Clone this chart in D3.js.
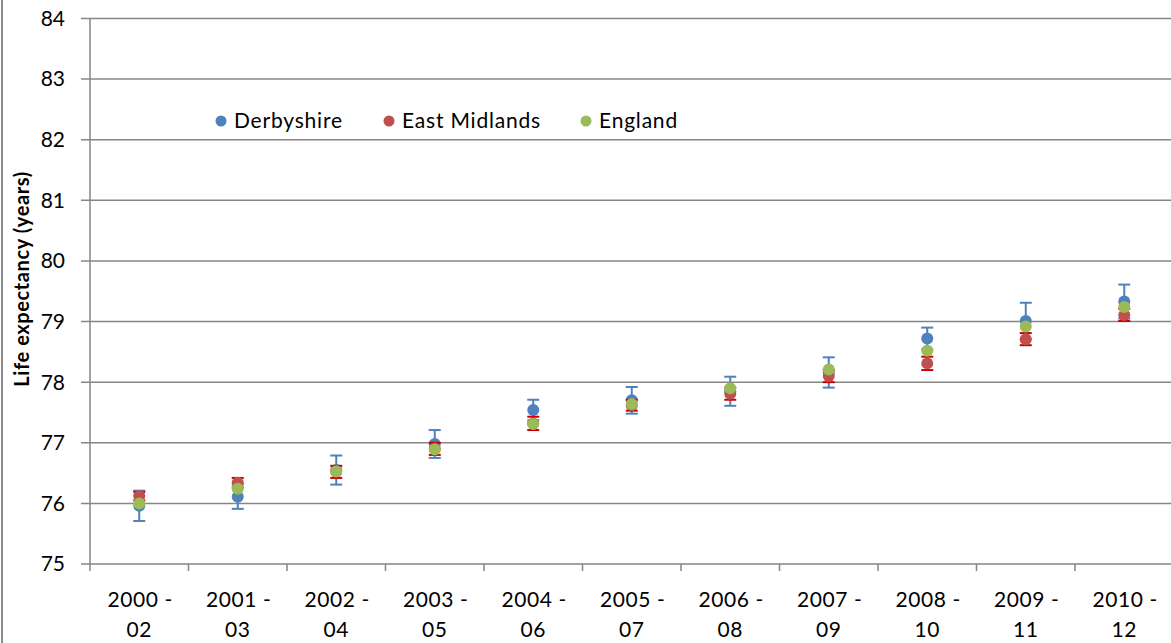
<!DOCTYPE html>
<html lang="en">
<head>
    <meta charset="UTF-8">
    <title>Life expectancy</title>
    <style>
        body { margin: 0; background: #fff; }
        svg { display: block; font-family: Lato, "Open Sans", sans-serif; }
    </style>
</head>
<body>
    <div id="chart"></div>

    <script src="https://d3js.org/d3.v7.min.js"></script>
    <script>
        // data
        const periods = ["2000 - 02", "2001 - 03", "2002 - 04", "2003 - 05", "2004 - 06", "2005 - 07",
                         "2006 - 08", "2007 - 09", "2008 - 10", "2009 - 11", "2010 - 12"];
        const derbyshire    = [75.96, 76.11, 76.55, 76.98, 77.54, 77.7, 77.85, 78.16, 78.72, 79.01, 79.33];
        const derbyshireErr = [0.25, 0.2, 0.24, 0.23, 0.17, 0.22, 0.24, 0.25, 0.18, 0.3, 0.28];
        const eastMidlands    = [76.12, 76.34, 76.52, 76.9, 77.32, 77.62, 77.81, 78.1, 78.31, 78.71, 79.11];
        const eastMidlandsErr = [0.07, 0.08, 0.1, 0.1, 0.11, 0.09, 0.1, 0.1, 0.11, 0.1, 0.1];
        const england = [76.0, 76.24, 76.53, 76.89, 77.31, 77.64, 77.9, 78.21, 78.52, 78.92, 79.24];
        const yTicks = [75, 76, 77, 78, 79, 80, 81, 82, 83, 84];

        const series = [
            { name: "Derbyshire", values: derbyshire, err: derbyshireErr, color: "#4F81BD", errColor: "#4F81BD" },
            { name: "East Midlands", values: eastMidlands, err: eastMidlandsErr, color: "#C0504D", errColor: "#CC0000" },
            { name: "England", values: england, err: null, color: "#9BBB59", errColor: null }
        ];

        const width = 1171, height = 643;
        const svg = d3.select("#chart").append("svg")
            .attr("width", width)
            .attr("height", height);

        // outer border on the left
        svg.append("line")
            .attr("x1", 2).attr("x2", 2).attr("y1", 0).attr("y2", height)
            .attr("stroke", "#8c8c8c").attr("stroke-width", 2);

        const x = d3.scaleBand().domain(periods).range([90, 1173.5]);
        const y = d3.scaleLinear().domain([75, 84]).range([564, 18.5]);

        // gridlines
        svg.append("g")
            .selectAll("line")
            .data(yTicks)
            .join("line")
            .attr("x1", 81).attr("x2", width)
            .attr("y1", d => y(d)).attr("y2", d => y(d))
            .attr("stroke", "#868686").attr("stroke-width", 1.5);

        // y axis
        svg.append("line")
            .attr("x1", 90).attr("x2", 90).attr("y1", y(84)).attr("y2", y(75))
            .attr("stroke", "#868686").attr("stroke-width", 1.5);
        svg.append("g")
            .selectAll("text")
            .data(yTicks)
            .join("text")
            .attr("x", 65).attr("y", d => y(d))
            .attr("dy", "0.35em")
            .attr("text-anchor", "end")
            .attr("font-size", 21)
            .text(d => d);

        // x axis ticks between categories
        const bounds = periods.map(p => x(p));
        svg.append("g")
            .selectAll("line")
            .data(bounds)
            .join("line")
            .attr("x1", d => d).attr("x2", d => d)
            .attr("y1", 564).attr("y2", 571)
            .attr("stroke", "#868686").attr("stroke-width", 1.5);

        const xl = svg.append("g")
            .selectAll("text")
            .data(periods)
            .join("text")
            .attr("text-anchor", "middle")
            .attr("font-size", 21)
            .attr("letter-spacing", 0.6);
        xl.append("tspan")
            .attr("x", d => x(d) + x.bandwidth() / 2 + 1)
            .attr("y", 607)
            .text(d => d.split(" - ")[0] + " -");
        xl.append("tspan")
            .attr("x", d => x(d) + x.bandwidth() / 2)
            .attr("y", 637)
            .text(d => d.split(" - ")[1]);

        // y axis title
        svg.append("text")
            .attr("transform", "translate(29,279) rotate(-90)")
            .attr("text-anchor", "middle")
            .attr("font-size", 20)
            .attr("font-weight", "bold")
            .attr("letter-spacing", 0.6)
            .text("Life expectancy (years)");

        const cx = i => x(periods[i]) + x.bandwidth() / 2;

        // each series: error bars, then markers
        series.forEach(s => {
            if (s.err) {
                const g = svg.append("g").attr("stroke", s.errColor).attr("stroke-width", 2).attr("fill", "none");
                s.values.forEach((v, i) => {
                    const lo = y(v - s.err[i]), hi = y(v + s.err[i]), c = cx(i);
                    g.append("line").attr("x1", c).attr("x2", c).attr("y1", lo).attr("y2", hi);
                    g.append("line").attr("x1", c - 6).attr("x2", c + 6).attr("y1", lo).attr("y2", lo);
                    g.append("line").attr("x1", c - 6).attr("x2", c + 6).attr("y1", hi).attr("y2", hi);
                });
            }
            svg.append("g")
                .selectAll("circle")
                .data(s.values)
                .join("circle")
                .attr("cx", (d, i) => cx(i))
                .attr("cy", d => y(d))
                .attr("r", 6)
                .attr("fill", s.color);
        });

        // legend
        const legendX = [221, 389, 586];
        const lg = svg.append("g")
            .selectAll("g")
            .data(series)
            .join("g")
            .attr("transform", (d, i) => `translate(${legendX[i]},121)`);
        lg.append("circle").attr("r", 5.5).attr("fill", d => d.color);
        lg.append("text")
            .attr("x", 13).attr("dy", "0.35em")
            .attr("font-size", 21)
            .attr("letter-spacing", 0.8)
            .text(d => d.name);
    </script>
</body>
</html>
